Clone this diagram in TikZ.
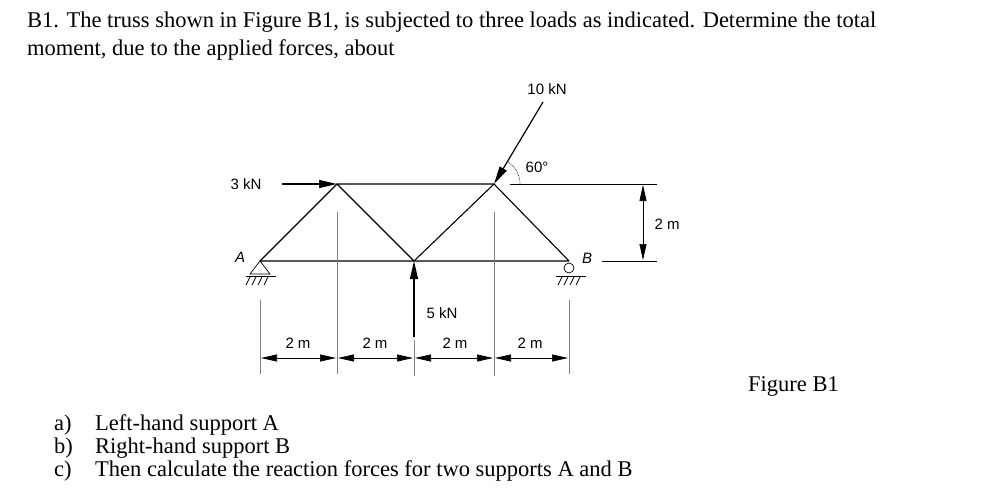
\documentclass[tikz,border=0pt]{standalone}
\usepackage{fontspec}
\setmainfont{Liberation Serif}
\newfontfamily\dsans{Liberation Sans}
\usetikzlibrary{arrows.meta}
\begin{document}
\begin{tikzpicture}[x=1pt,y=-1pt,
  mem/.style={line width=1.1pt},
  thin/.style={line width=0.7pt},
  lbl/.style={font=\dsans\fontsize{15}{17}\selectfont, inner sep=0pt},
  ttl/.style={font=\fontsize{22.5}{26}\selectfont, inner sep=0pt, anchor=base west},
  force/.style={line width=1.2pt,-{Triangle[length=18pt,width=8pt]}},
  dim/.style={thin,{Triangle[length=16pt,width=7pt]}-{Triangle[length=16pt,width=7pt]}}]
\useasboundingbox (0,0) rectangle (990,492);
\fill[white] (0,0) rectangle (990,492);
% title
\node[ttl] (t1) at (27,28) {B1. The truss shown in Figure B1, is subjected to three loads as indicated. Determine the total};
\node[ttl] (t2) at (27,56) {moment, due to the applied forces, about};
\node[ttl] (qa) at (54,430) {a)}; \node[ttl] (qa2) at (95,430) {Left-hand support A};
\node[ttl] (qb) at (54,453) {b)}; \node[ttl] (qb2) at (95,453) {Right-hand support B};
\node[ttl] (qc) at (54,476) {c)}; \node[ttl] (qc2) at (95,476) {Then calculate the reaction forces for two supports A and B};
\node[ttl] (fig) at (748,391) {Figure B1};
% nodes
\coordinate (A) at (260,261);
\coordinate (C) at (337,184);
\coordinate (M) at (414,261);
\coordinate (D) at (494,184);
\coordinate (B) at (569,261);
\draw[mem] (A)--(B) (A)--(C)--(D)--(B) (C)--(M)--(D);
% supports
\draw[thin] (A)--(250,274)--(270,274)--cycle;
\draw[thin] (246,276)--(276,276);
\foreach \i in {0,1,2,3} \draw[thin] (250+6*\i,277)--(246+6*\i,285);
\node[draw,circle,thin,minimum size=10pt,inner sep=0pt] (roll) at (569,268) {};
\draw[thin] (556,276)--(586,276);
\foreach \i in {0,1,2,3} \draw[thin] (562+6*\i,277)--(558+6*\i,285);
\node[lbl] (la) at (240,257) {\itshape A};
\node[lbl] (lb) at (587,258) {\itshape B};
% forces
\coordinate (f3) at (282,184);
\draw[force] (f3)--(C);
\node[lbl] (l3) at (246,184) {3 kN};
\coordinate (f5) at (414,337);
\draw[force] (f5)--(M);
\node[lbl] (l5) at (442,313) {5 kN};
\coordinate (f10) at (543,102);
\draw[force] (f10)--(D);
\node[lbl] (l10) at (547,89) {10 kN};
\draw[thin,densely dotted] (520,184) arc (0:-58:26);
\node[lbl] (l60) at (537,167) {60°};
% extension lines
\draw[thin,gray] (337,212)--(337,374) (494,212)--(494,376) (260,300)--(260,374) (569,300)--(569,374) (414,340)--(414,376);
\draw[thin] (510,184)--(657,184) (602,261)--(657,261);
\draw[dim] (643,185)--(643,260);
\node[lbl] (l2v) at (667,224) {2 m};
% dimensions
\draw[dim] (261,358)--(336,358);
\draw[dim] (338,358)--(413,358);
\draw[dim] (415,358)--(493,358);
\draw[dim] (495,358)--(568,358);
\node[lbl] (d1) at (298,343) {2 m};
\node[lbl] (d2) at (375,343) {2 m};
\node[lbl] (d3) at (455,343) {2 m};
\node[lbl] (d4) at (530,343) {2 m};
\end{tikzpicture}
\end{document}
